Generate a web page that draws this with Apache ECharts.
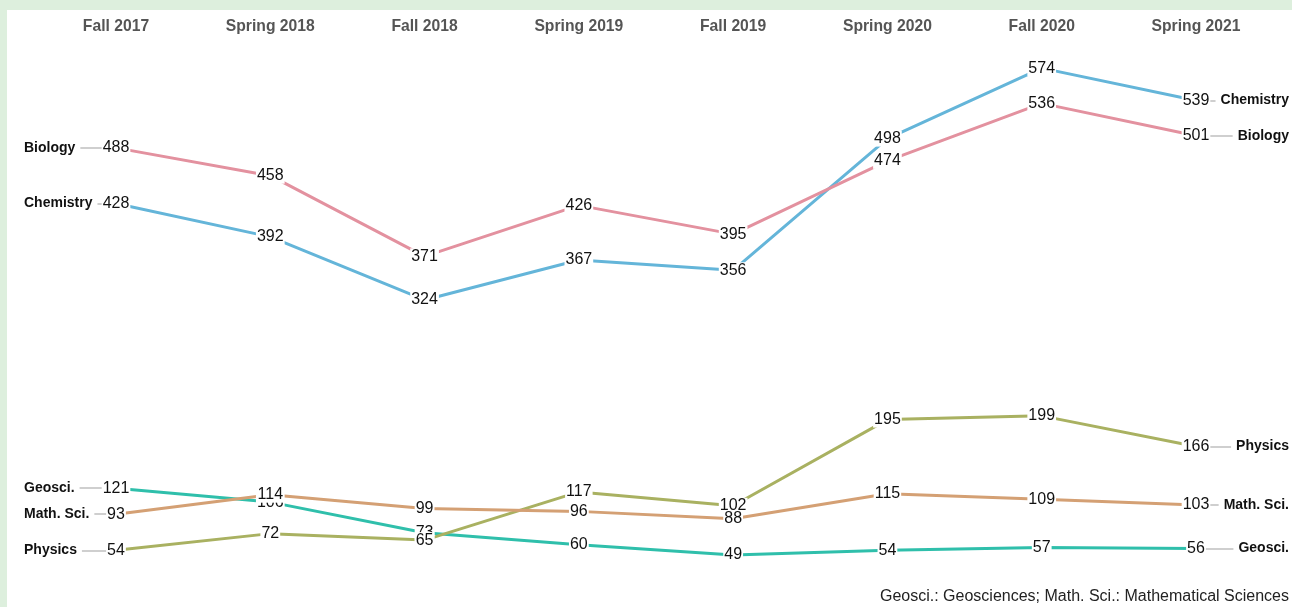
<!DOCTYPE html>
<html>
<head>
<meta charset="utf-8">
<script src="https://cdn.jsdelivr.net/npm/echarts@6/dist/echarts.min.js"></script>
<style>
    html, body { margin: 0; padding: 0; background: #ddefdd; }
    #chart { position: absolute; left: 7px; top: 10px; width: 1285px; height: 597px; background: #fff; }
</style>
</head>
<body>
<div id="chart"></div>
<script>
// 学期
var terms = ['Fall 2017', 'Spring 2018', 'Fall 2018', 'Spring 2019', 'Fall 2019', 'Spring 2020', 'Fall 2020', 'Spring 2021'];

// 各专业人数
var geosci = [121, 106, 73, 60, 49, 54, 57, 56];
var mathSci = [93, 114, 99, 96, 88, 115, 109, 103];
var physics = [54, 72, 65, 117, 102, 195, 199, 166];
var chemistry = [428, 392, 324, 367, 356, 498, 574, 539];
var biology = [488, 458, 371, 426, 395, 474, 536, 501];

var note = 'Geosci.: Geosciences; Math. Sci.: Mathematical Sciences';

var fontFamily = '"Liberation Sans", Arial, sans-serif';

// 单条折线 + 两端名称
function buildSeries(name, data, color) {
    var last = data.length - 1;
    return {
        name: name,
        type: 'line',
        data: data,
        z: 3,
        symbol: 'circle',
        symbolSize: 2,
        showSymbol: true,
        itemStyle: {color: color},
        lineStyle: {color: color, width: 3},
        label: {
            show: true,
            position: 'inside',
            color: '#111',
            fontSize: 16,
            fontFamily: fontFamily,
            backgroundColor: '#fff',
            padding: [0, 1]
        },
        emphasis: {disabled: true},
        markLine: {
            silent: true,
            z: 1,
            animation: false,
            symbol: ['none', 'none'],
            lineStyle: {color: '#cfcfcf', width: 2, type: 'solid'},
            label: {
                show: true,
                formatter: name,
                color: '#111',
                fontWeight: 'bold',
                fontSize: 14,
                fontFamily: fontFamily,
                backgroundColor: '#fff',
                distance: 0
            },
            data: [
                [
                    {x: 17, coord: [0, data[0]], label: {position: 'insideStart', padding: [0, 5, 0, 0]}},
                    {coord: [0, data[0]]}
                ],
                [
                    {coord: [last, data[last]]},
                    {x: 1282, coord: [last, data[last]], label: {position: 'insideEnd', padding: [0, 0, 0, 5]}}
                ]
            ]
        }
    };
}

var chart = echarts.init(document.getElementById('chart'));
var option = {
    animation: false,
    grid: {left: 109, right: 96, top: 34, bottom: 6.6},
    xAxis: {
        type: 'category',
        data: terms,
        position: 'top',
        boundaryGap: false,
        axisLine: {show: false},
        axisTick: {show: false},
        splitLine: {show: false},
        axisLabel: {color: '#555', fontWeight: 'bold', fontSize: 15.7, fontFamily: fontFamily, margin: 9}
    },
    yAxis: {type: 'value', min: 0, max: 600, show: false},
    graphic: [{
        type: 'text',
        right: 3,
        bottom: 2,
        style: {text: note, fontSize: 16, fontFamily: fontFamily, fill: '#222'}
    }],
    series: [
        buildSeries('Geosci.', geosci, '#2fbfab'),
        buildSeries('Physics', physics, '#a9b161'),
        buildSeries('Math. Sci.', mathSci, '#d4a074'),
        buildSeries('Chemistry', chemistry, '#64b5d9'),
        buildSeries('Biology', biology, '#e3919f')
    ]
};
chart.setOption(option);
</script>
</body>
</html>
